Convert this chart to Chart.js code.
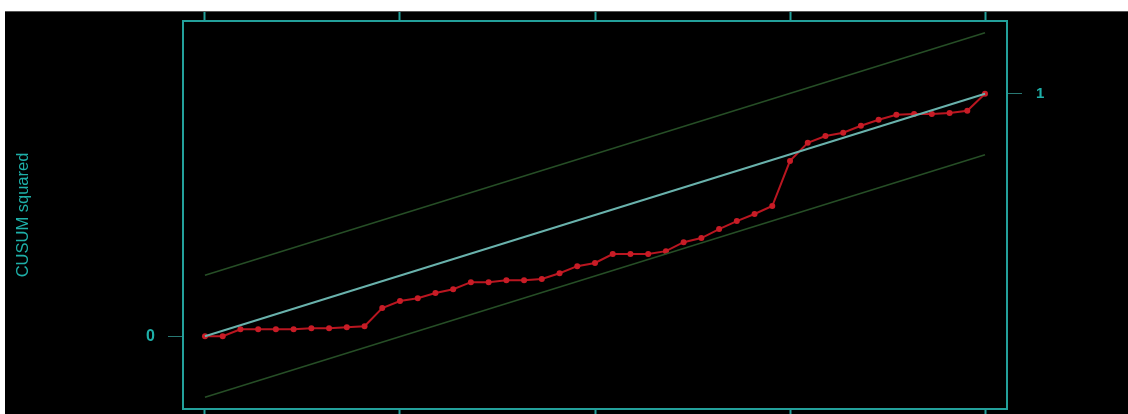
<!DOCTYPE html>
<html>
<head>
<meta charset="utf-8">
<script src="https://cdn.jsdelivr.net/npm/chart.js@4.4.1/dist/chart.umd.min.js"></script>
<style>
  html, body { margin: 0; padding: 0; background: #ffffff; overflow: hidden; }
  #wrap { position: absolute; left: 5px; top: 11px; width: 1123px; height: 403px; background: #000; border-top: 1px solid #555; }
  canvas { display: block; }
</style>
</head>
<body>
<div id="wrap"><canvas id="cusumChart" width="1123" height="403"></canvas></div>
<script>
const cusumSq = [
  0.000, 0.000, 0.029, 0.029, 0.029, 0.029, 0.033, 0.033, 0.037, 0.041,
  0.116, 0.145, 0.157, 0.178, 0.194, 0.223, 0.223, 0.231, 0.231, 0.236,
  0.260, 0.289, 0.302, 0.339, 0.339, 0.339, 0.351, 0.388, 0.405, 0.442,
  0.475, 0.504, 0.537, 0.723, 0.798, 0.826, 0.839, 0.868, 0.893, 0.913,
  0.917, 0.917, 0.921, 0.930, 1.000
];
// straight reference lines, given by their two end points
const lineEnds = [0, 44];
const expectedLine = [0, 1];
const upperBound = [0.252, 1.252];
const lowerBound = [-0.252, 0.748];
// tick positions
const xTicks = [0, 11, 22, 33, 44];
const yLeftTicks = [0];
const yRightTicks = [1];

const frameColor = 'rgb(35, 160, 155)';
const textColor = 'rgb(30, 175, 168)';

function pts(xs, ys) {
  return xs.map((x, i) => ({ x: x, y: ys[i] }));
}

// force a fixed box size and drop the edge padding Chart.js adds for labels
function fixedSize(prop, val) {
  return function (scale) {
    scale[prop] = val;
    scale.paddingTop = 0;
    scale.paddingBottom = 0;
    scale.paddingLeft = 0;
    scale.paddingRight = 0;
  };
}

const ctx = document.getElementById('cusumChart').getContext('2d');
const cusumChart = new Chart(ctx, {
  type: 'scatter',
  data: {
    datasets: [
      {
        label: 'Upper bound',
        data: pts(lineEnds, upperBound),
        showLine: true,
        borderColor: 'rgb(38, 78, 38)',
        borderWidth: 1.6,
        pointRadius: 0
      },
      {
        label: 'Lower bound',
        data: pts(lineEnds, lowerBound),
        showLine: true,
        borderColor: 'rgb(38, 78, 38)',
        borderWidth: 1.6,
        pointRadius: 0
      },
      {
        label: 'Expected',
        data: pts(lineEnds, expectedLine),
        showLine: true,
        borderColor: 'rgb(105, 178, 172)',
        borderWidth: 2,
        pointRadius: 0
      },
      {
        label: 'CUSUM squared',
        data: cusumSq.map((v, i) => ({ x: i, y: v })),
        showLine: true,
        borderColor: 'rgb(185, 22, 32)',
        borderWidth: 2,
        pointRadius: 3,
        pointBackgroundColor: 'rgb(200, 28, 38)',
        pointBorderWidth: 0
      }
    ]
  },
  options: {
    responsive: false,
    animation: false,
    devicePixelRatio: 1,
    layout: { padding: 0 },
    plugins: { legend: { display: false }, tooltip: { enabled: false } },
    scales: {
      x: {
        type: 'linear',
        position: 'bottom',
        min: -1.24,
        max: 45.24,
        afterBuildTicks: s => { s.ticks = xTicks.map(v => ({ value: v })); },
        afterFit: fixedSize('height', 6),
        ticks: { display: false },
        grid: { drawOnChartArea: false, drawTicks: true, tickLength: 6, color: frameColor, tickWidth: 2 },
        border: { display: true, color: frameColor, width: 2 }
      },
      x2: {
        type: 'linear',
        position: 'top',
        min: -1.24,
        max: 45.24,
        afterBuildTicks: s => { s.ticks = xTicks.map(v => ({ value: v })); },
        afterFit: fixedSize('height', 9),
        ticks: { display: false },
        grid: { drawOnChartArea: false, drawTicks: true, tickLength: 9, color: frameColor, tickWidth: 2 },
        border: { display: true, color: frameColor, width: 2 }
      },
      y: {
        type: 'linear',
        position: 'left',
        min: -0.3,
        max: 1.3,
        afterBuildTicks: s => { s.ticks = yLeftTicks.map(v => ({ value: v })); },
        afterFit: fixedSize('width', 178),
        ticks: {
          color: textColor,
          padding: 13,
          font: { family: 'Liberation Sans', size: 16, weight: 'bold' }
        },
        grid: { drawOnChartArea: false, drawTicks: true, tickLength: 15, color: 'rgb(40, 120, 115)', tickWidth: 1 },
        border: { display: true, color: frameColor, width: 2 },
        title: {
          display: true,
          text: 'CUSUM squared',
          color: textColor,
          padding: { top: 9, bottom: 0 },
          font: { family: 'Liberation Sans', size: 16.5 }
        }
      },
      y2: {
        type: 'linear',
        position: 'right',
        min: -0.3,
        max: 1.3,
        afterBuildTicks: s => { s.ticks = yRightTicks.map(v => ({ value: v })); },
        afterFit: fixedSize('width', 121),
        ticks: {
          color: textColor,
          padding: 14,
          font: { family: 'Liberation Sans', size: 15, weight: 'bold' }
        },
        grid: { drawOnChartArea: false, drawTicks: true, tickLength: 15, color: 'rgb(40, 120, 115)', tickWidth: 1 },
        border: { display: true, color: frameColor, width: 2 }
      }
    }
  }
});
</script>
</body>
</html>
